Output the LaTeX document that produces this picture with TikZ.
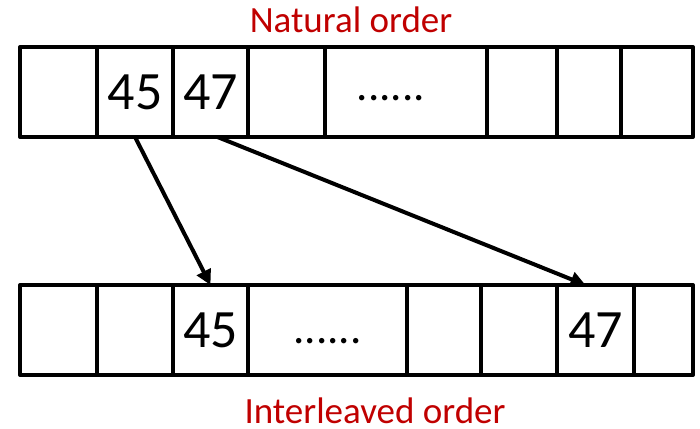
\documentclass[tikz,border=0pt]{standalone}
\usepackage{fontspec}
\setmainfont{Carlito}
\usetikzlibrary{arrows.meta}
\definecolor{ordred}{RGB}{192,0,0}
\tikzset{>={Triangle[length=15pt,width=15pt]}}
\tikzset{cell/.style={draw,line width=4pt,line join=round,inner sep=0pt,outer sep=0pt,
    minimum height=90pt,font=\fontsize{54}{60}\selectfont},
  caption/.style={text=ordred,font=\fontsize{37}{42}\selectfont,anchor=base,inner sep=0pt}}
\newcommand\celldots[1]{\raisebox{#1}[0pt][0pt]{\fontsize{45}{50}\selectfont......}}

\begin{document}
\begin{tikzpicture}[x=1pt,y=-1pt]
\useasboundingbox (0,0) rectangle (700,428);
% natural order row
\foreach \l/\r/\t [count=\i] in {20/97/{},97/173/45,173/248/47,248/325/{},325/487/{\celldots{-8pt}\hspace*{30pt}},487/557/{},557/621/{},621/693/{}}{
  \pgfmathsetmacro\w{\r-\l}
  \node[cell,minimum width=\w pt] (t\i) at ({(\l+\r)/2},92) {\t};
}
% interleaved order row
\foreach \l/\r/\t [count=\i] in {20/97/{},97/173/{},173/248/45,248/407/{\celldots{-13pt}},407/481/{},481/557/{},557/634/47,634/693/{}}{
  \pgfmathsetmacro\w{\r-\l}
  \node[cell,minimum width=\w pt] (b\i) at ({(\l+\r)/2},330) {\t};
}
\node[caption] (nat) at (351,33) {Natural order};
\node[caption] (inter) at (375,423) {Interleaved order};
\draw[->,line width=4pt] (t2.south) -- (b3.north);
\draw[->,line width=4pt] ([xshift=7pt]t3.south) -- ([xshift=-10pt]b7.north);
\end{tikzpicture}
\end{document}
